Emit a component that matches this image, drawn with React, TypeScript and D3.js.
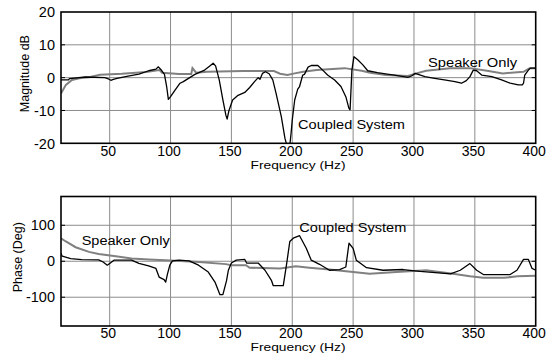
import React from "react";
import * as d3 from "d3";

// ---- Data ----
const xTickValues = [50, 100, 150, 200, 250, 300, 350, 400];
const magTickValues = [20, 10, 0, -10, -20];
const phaseTickValues = [100, 0, -100];

const magCoupledFreq = [10, 16, 17, 30, 46, 49, 51, 53, 56, 63, 74, 82, 88, 90, 92, 95, 96.8, 98.2, 100, 103.7, 107.8, 110.5, 120, 128, 132, 135, 137, 140, 143, 145.5, 146.5, 148, 151, 155, 161, 165, 169, 172, 173.5, 175.5, 178, 181, 184, 186.7, 191, 194, 195.5, 198, 199, 200, 202, 204.5, 206, 208.6, 210, 213, 215.6, 221, 225, 229, 234.8, 240, 244, 246.5, 247.5, 249, 250.7, 254, 258, 262, 270, 278, 284, 295, 298, 301, 309, 317, 325, 333.6, 339, 343, 346, 348.7, 351.5, 355.6, 364, 372, 379, 385.7, 389, 390, 391, 394, 395.6, 400];
const magCoupledDb = [-0.7, -0.7, -0.3, 0.2, 0.0, -0.4, -0.8, -0.5, -0.2, 0.3, 1.1, 2.1, 2.6, 3.3, 2.5, 1.0, -2.7, -6.6, -5.8, -3.8, -1.7, -1.2, 1.0, 2.3, 3.5, 4.4, 3.6, -0.7, -6.8, -11.5, -12.6, -10, -6.8, -5.5, -4.5, -3, -1.2, 0.0, -0.5, 1.3, 1.8, 1.2, -0.7, -4.8, -11.9, -18.5, -20.5, -20.5, -17, -12.9, -6.8, -3.5, -2.7, 0.8, 1.0, 3.2, 3.7, 3.7, 2.3, 0.8, -0.7, -2.7, -5.8, -9.3, -9.8, 2.3, 6.4, 5.4, 3.9, 2.1, 1.5, 1.1, 0.8, 0.1, 0.5, 1.3, 0.3, -0.2, -0.7, -1.2, -1.7, -0.9, 0.3, 2.3, 2.1, 0.8, 0.3, -0.7, -1.7, -2.2, -2.2, -1.7, 0.8, 2.3, 2.9, 2.9];

const magSpeakerFreq = [10, 14, 19, 25, 34, 42, 60, 80, 88, 91, 93, 107, 117, 118, 121, 130, 160, 185, 190, 196, 202, 209, 220, 243, 257, 264, 277, 295, 302, 310, 330, 346, 360, 373, 390, 395, 400];
const magSpeakerDb = [-4.8, -2.2, -0.7, -0.2, 0.2, 0.9, 1.2, 1.7, 2.2, 2.3, 1.5, 1.1, 1.1, 2.9, 1.5, 1.8, 2.0, 2.0, 1.2, 0.8, 1.3, 1.8, 2.3, 2.9, 2.1, 1.5, 0.8, 0.5, 1.3, 2.1, 2.9, 2.9, 2.1, 1.3, 1.8, 2.9, 2.9];

const phaseSpeakerFreq = [10, 14, 22, 33, 41, 55, 68, 82, 96, 123.5, 145.5, 150, 162, 165, 190, 203, 214, 230.6, 250, 263.6, 285.6, 310, 332, 346, 357, 374, 385, 400];
const phaseSpeakerDeg = [64, 55, 39, 26, 20, 14, 7.5, 4.7, 2.8, -2, -8, -11, -11, -18, -20, -14, -18, -23, -30, -35, -30, -25, -35, -42, -46, -46, -42, -40];

const phaseCoupledFreq = [10, 11, 18, 27, 41, 44.6, 48, 50, 53.5, 68, 74, 82, 88, 90.6, 94.7, 96, 97.5, 99.4, 101.6, 107, 115.3, 123, 131, 136.5, 140.6, 143, 146, 147.5, 150, 154, 161, 162.5, 172, 177.6, 183, 184.4, 192.6, 195.4, 198, 200.8, 206, 211.5, 215.6, 222.4, 230.6, 238.9, 244, 246.6, 250, 252.6, 261, 274.6, 291, 305, 330, 338, 346, 351.5, 357, 379, 384.6, 390, 394, 397, 400];
const phaseCoupledDeg = [22, 14, 7.5, 4.7, 4, -2, -11, -6, 3, 3, -6, -13, -20, -44, -51, -58, -35, -11, 1, 3, 1, -11, -30, -58, -93, -93, -54, -25, -5, 3, 5, -5, -5, -25, -54, -68, -68, -6.5, 55, 64, 71, 36, 3, -8.5, -25, -23, -16, 50, 36, 3, -18, -25, -23, -28, -35, -25, -6.5, -25, -37, -37, -25, 5, 5, -20, -25];

const FONT = "'Liberation Sans', Arial, sans-serif";
const GRID = "#8c8c8c";
const GRAY = "#808080";

type Panel = {
  id: string;
  top: number;
  bottom: number;
  domain: [number, number];
  ticks: number[];
  grid: number[];
  title: string;
  titleX: number;
  tickY: number;
  freqY: number;
  speakerF: number[];
  speakerV: number[];
  coupledF: number[];
  coupledV: number[];
  labels: { text: string; x: number; y: number; len: number }[];
};

export default function App() {
  const W = 553;
  const H = 354;
  const left = 61;
  const right = 535.7;
  const x = d3.scaleLinear().domain([10, 400]).range([left, right]);

  const panels: Panel[] = [
    {
      id: "mag",
      top: 12,
      bottom: 143.3,
      domain: [-20, 20],
      ticks: magTickValues,
      grid: [10, 0, -10],
      title: "Magnitude dB",
      titleX: 29,
      tickY: 155.5,
      freqY: 169,
      speakerF: magSpeakerFreq,
      speakerV: magSpeakerDb,
      coupledF: magCoupledFreq,
      coupledV: magCoupledDb,
      labels: [
        { text: "Speaker Only", x: 428, y: 66.5, len: 89 },
        { text: "Coupled System", x: 298, y: 128.5, len: 107 },
      ],
    },
    {
      id: "phase",
      top: 196.5,
      bottom: 326,
      domain: [-180, 180],
      ticks: phaseTickValues,
      grid: [100, 0, -100],
      title: "Phase (Deg)",
      titleX: 21.5,
      tickY: 337.5,
      freqY: 351,
      speakerF: phaseSpeakerFreq,
      speakerV: phaseSpeakerDeg,
      coupledF: phaseCoupledFreq,
      coupledV: phaseCoupledDeg,
      labels: [
        { text: "Speaker Only", x: 81.7, y: 245, len: 88 },
        { text: "Coupled System", x: 299.3, y: 232, len: 107 },
      ],
    },
  ];

  return (
    <svg
      width={W}
      height={H}
      viewBox={`0 0 ${W} ${H}`}
      style={{ position: "absolute", left: 0, top: 0, background: "#fff" }}
      fontFamily={FONT}
    >
      <rect x={0} y={0} width={W} height={H} fill="#fff" />
      {panels.map((p) => {
        const y = d3.scaleLinear().domain(p.domain).range([p.bottom, p.top]);
        const line = d3
          .line<[number, number]>()
          .x((d) => x(d[0]))
          .y((d) => y(d[1]));
        const sp = line(p.speakerF.map((f, i) => [f, p.speakerV[i]] as [number, number])) || "";
        const cp = line(p.coupledF.map((f, i) => [f, p.coupledV[i]] as [number, number])) || "";
        const clipId = `clip-${p.id}`;
        return (
          <g key={p.id}>
            <defs>
              <clipPath id={clipId}>
                <rect x={left} y={p.top} width={right - left} height={p.bottom - p.top} />
              </clipPath>
            </defs>
            {/* grid */}
            {xTickValues
              .filter((t) => t < 400)
              .map((t) => (
                <line key={`gx${t}`} x1={x(t)} x2={x(t)} y1={p.top} y2={p.bottom} stroke={GRID} strokeWidth={1} />
              ))}
            {p.grid.map((t) => (
              <line key={`gy${t}`} x1={left} x2={right} y1={y(t)} y2={y(t)} stroke={GRID} strokeWidth={1} />
            ))}
            {/* inward ticks on left and right */}
            {p.grid.map((t) => (
              <line key={`tr${t}`} x1={right - 4} x2={right} y1={y(t)} y2={y(t)} stroke="#000" strokeWidth={1} />
            ))}
            {p.grid.map((t) => (
              <line key={`tl${t}`} x1={left} x2={left + 4} y1={y(t)} y2={y(t)} stroke="#000" strokeWidth={1} />
            ))}
            {/* series */}
            <g clipPath={`url(#${clipId})`}>
              <path d={sp} fill="none" stroke={GRAY} strokeWidth={2} strokeLinejoin="miter" />
              <path d={cp} fill="none" stroke="#000" strokeWidth={1.3} strokeLinejoin="round" />
            </g>
            {/* frame */}
            <rect
              x={left}
              y={p.top}
              width={right - left}
              height={p.bottom - p.top}
              fill="none"
              stroke="#000"
              strokeWidth={1.6}
            />
            {/* y tick labels */}
            {p.ticks.map((t) => (
              <text key={`yl${t}`} x={55} y={y(t)} dy="0.36em" textAnchor="end" fontSize={14.5} fill="#000">
                {t}
              </text>
            ))}
            {/* x tick labels */}
            {xTickValues.map((t) => (
              <text key={`xl${t}`} x={x(t) - 1.5} y={p.tickY} textAnchor="middle" fontSize={14} fill="#000">
                {t}
              </text>
            ))}
            <text
              x={298}
              y={p.freqY}
              textAnchor="middle"
              fontSize={11.5}
              textLength={95}
              lengthAdjust="spacingAndGlyphs"
              fill="#000"
            >
              Frequency (Hz)
            </text>
            <text
              transform={`translate(${p.titleX},${(p.top + p.bottom) / 2 - 4}) rotate(-90)`}
              textAnchor="middle"
              fontSize={12.5}
              fill="#000"
            >
              {p.title}
            </text>
            {p.labels.map((l) => (
              <text
                key={l.text}
                x={l.x}
                y={l.y}
                fontSize={12}
                textLength={l.len}
                lengthAdjust="spacingAndGlyphs"
                fill="#000"
              >
                {l.text}
              </text>
            ))}
          </g>
        );
      })}
    </svg>
  );
}
